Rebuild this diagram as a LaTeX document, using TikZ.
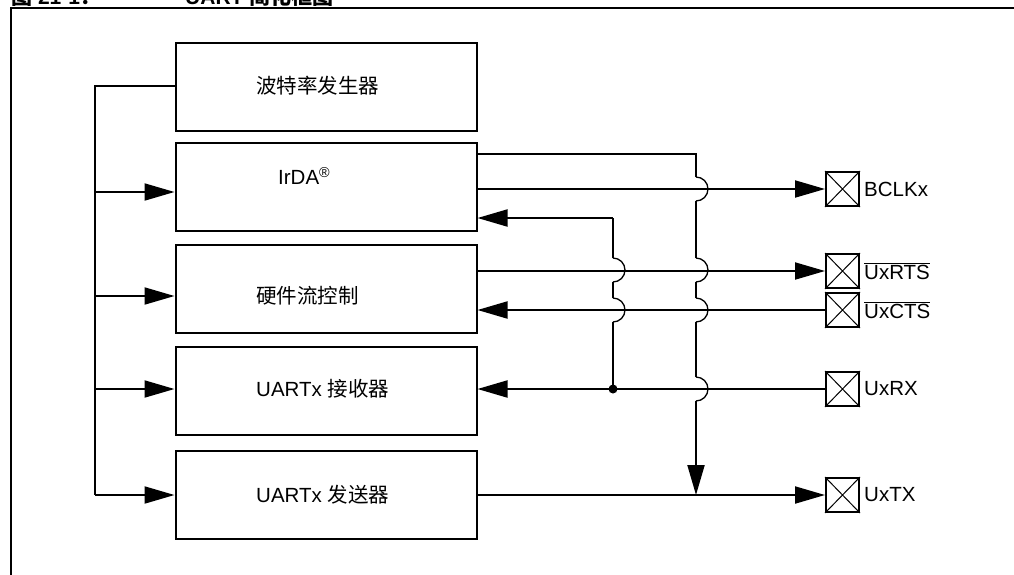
\documentclass[tikz,border=0pt]{standalone}
\usepackage{fontspec}
\setmainfont{Liberation Sans}
\newfontfamily\cjk{Noto Sans CJK SC}
\usetikzlibrary{arrows.meta}
\begin{document}
\begin{tikzpicture}[x=1pt,y=-1pt,
  every node/.style={font=\fontsize{20.5}{24}\selectfont, inner sep=0pt},
  blk/.style={draw, line width=2pt, minimum width=301pt, minimum height=88pt, anchor=north west},
  pinbox/.style={draw, line width=2pt, minimum width=33pt, minimum height=34pt},
  wire/.style={line width=2pt},
  arr/.style={line width=2pt, -{Triangle[length=30pt,width=17pt]}},
  hop/.style={line width=1.3pt},
  lbl/.style={anchor=west}]
\useasboundingbox (0,0) rectangle (1014,574);
% title (cut off by the page edge)
\node[anchor=base west, font=\fontsize{21}{24}\selectfont\bfseries] (t1) at (11,4) {{\cjk 图} 21-1{\cjk ：}};
\node[anchor=base west, font=\fontsize{21}{24}\selectfont\bfseries] (t2) at (185,4) {UART {\cjk 简化框图}};
% frame
\draw[line width=2.2pt] (11,575) -- (11,8) -- (1015,8);
% blocks
\node[blk] (baud) at (174.5,42) {};
\node[blk] (irda) at (174.5,142) {};
\node[blk] (hw)   at (174.5,244) {};
\node[blk] (rx)   at (174.5,346) {};
\node[blk] (tx)   at (174.5,450) {};
\node[lbl] (baudt) at (256,86) {\cjk 波特率发生器};
\node[lbl] (irdat) at (278,176) {IrDA\textsuperscript{®}};
\node[lbl] (hwt) at (256,296) {\cjk 硬件流控制};
\node[lbl] (rxt) at (256,389) {UARTx {\cjk 接收器}};
\node[lbl] (txt) at (256,495) {UARTx {\cjk 发送器}};
% pins
\foreach \n/\y in {bclk/189, rts/271, cts/310, urx/389, utx/495}{
  \node[pinbox] (\n) at (842.5,\y) {};
  \draw[line width=1pt] (\n.north west) -- (\n.south east) (\n.north east) -- (\n.south west);
}
\node[lbl] (bclkt) at (864,189) {BCLKx};
\node[lbl] (rtst) at (864,271) {$\overline{\mbox{UxRTS}}$};
\node[lbl] (ctst) at (864,310) {$\overline{\mbox{UxCTS}}$};
\node[lbl] (urxt) at (864,389) {UxRX};
\node[lbl] (utxt) at (864,495) {UxTX};
% left bus
\coordinate (bus) at (95,86);
\draw[wire] (baud.west |- bus) -- (bus) -- (95,495);
\draw[arr] (95,192) -- (irda.west |- 0,192);
\draw[arr] (95,296) -- (hw.west |- 0,296);
\draw[arr] (95,389) -- (rx.west |- 0,389);
\draw[arr] (95,495) -- (tx.west |- 0,495);
% horizontal wires
\draw[arr] (irda.east |- bclk) -- (bclk.west);
\draw[arr] (hw.east |- rts) -- (rts.west);
\draw[arr] (cts.west) -- (hw.east |- cts);
\draw[arr] (urx.west) -- (rx.east |- urx);
\draw[arr] (tx.east |- utx) -- (utx.west);
% receive branch to IrDA
\coordinate (dot) at (613,389);
\fill (dot) circle (4.5pt);
\draw[wire] (dot) -- (613,322) (613,298) -- (613,282) (613,258) -- (613,218);
\draw[arr] (613,218) -- (irda.east |- 0,218);
\draw[hop] (613,258) arc[start angle=90,end angle=-90,radius=12pt];
\draw[hop] (613,298) arc[start angle=90,end angle=-90,radius=12pt];
% IrDA to transmit line
\draw[wire] (irda.east |- 0,154) -- (696,154) -- (696,177) (696,201) -- (696,258) (696,282) -- (696,298) (696,322) -- (696,377);
\draw[arr] (696,401) -- (696,495);
\foreach \y in {189,270,310,389}{
  \draw[hop] (696,\y-12) arc[start angle=90,end angle=-90,radius=12pt];
}
\end{tikzpicture}
\end{document}
